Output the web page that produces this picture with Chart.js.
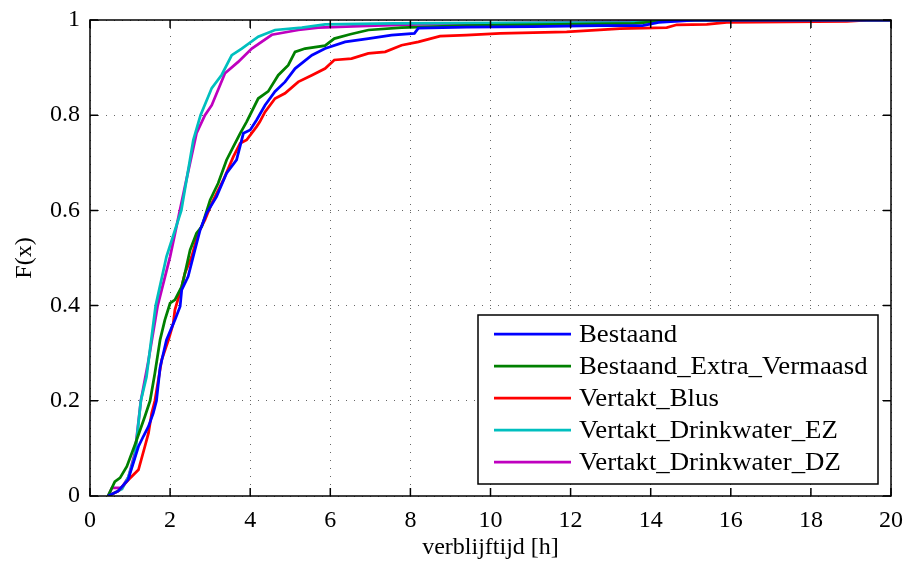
<!DOCTYPE html>
<html><head><meta charset="utf-8">
<script src="https://cdn.jsdelivr.net/npm/chart.js@4/dist/chart.umd.min.js"></script>
<style>html,body{margin:0;padding:0;background:#fff}</style>
</head><body>
<canvas id="c" width="907" height="562"></canvas>
<script>
// ---- data ----
const seriesNames = ['Bestaand','Bestaand_Extra_Vermaasd','Vertakt_Blus','Vertakt_Drinkwater_EZ','Vertakt_Drinkwater_DZ'];
const seriesColors = ['#0000FF','#008000','#FF0000','#00BFBF','#BF00BF'];
const xTicks = [0,2,4,6,8,10,12,14,16,18,20];
const yTicks = [0,0.2,0.4,0.6,0.8,1];

const bestaandX = [0.45,0.7,0.95,1.21,1.33,1.46,1.58,1.66,1.75,1.91,2.12,2.25,2.29,2.45,2.62,2.75,2.91,3.16,3.41,3.66,3.83,4.0,4.16,4.37,4.62,4.87,5.12,5.54,5.87,6.37,6.95,7.53,8.1,8.2,9.4,11.07,12.7,13.8,14.2,15.2,20];
const bestaandY = [0,0.01,0.034,0.104,0.125,0.146,0.174,0.2,0.27,0.328,0.37,0.398,0.433,0.461,0.517,0.559,0.594,0.629,0.678,0.706,0.762,0.769,0.79,0.821,0.85,0.87,0.898,0.926,0.94,0.954,0.961,0.968,0.972,0.983,0.985,0.986,0.988,0.988,0.995,1,1];

const extraX = [0.45,0.62,0.75,0.92,1.12,1.37,1.5,1.62,1.75,1.87,2.0,2.12,2.29,2.37,2.5,2.66,2.79,3.0,3.2,3.41,3.58,3.75,3.91,4.2,4.45,4.7,4.95,5.12,5.37,5.87,6.1,6.5,6.95,7.78,9.4,13.6,14.6,20];
const extraY = [0,0.03,0.038,0.062,0.107,0.167,0.2,0.258,0.328,0.37,0.405,0.412,0.44,0.468,0.517,0.552,0.566,0.622,0.657,0.706,0.734,0.762,0.786,0.835,0.85,0.884,0.905,0.933,0.94,0.946,0.961,0.97,0.979,0.984,0.988,0.993,1,1];

const blusX = [0.45,0.7,0.96,1.21,1.37,1.46,1.54,1.62,1.79,1.96,2.08,2.12,2.29,2.37,2.54,2.7,2.87,3.04,3.33,3.58,3.75,3.91,4.16,4.24,4.37,4.62,4.87,5.2,5.54,5.87,6.1,6.53,6.95,7.37,7.78,8.2,8.74,9.4,10.24,11.9,12.73,13.23,14.4,14.65,15.4,15.9,18.9,19.5,20];
const blusY = [0,0.01,0.034,0.055,0.104,0.132,0.174,0.2,0.286,0.328,0.363,0.391,0.44,0.468,0.503,0.552,0.58,0.615,0.664,0.713,0.741,0.748,0.776,0.786,0.807,0.835,0.846,0.87,0.884,0.898,0.916,0.919,0.93,0.933,0.947,0.954,0.966,0.968,0.972,0.975,0.979,0.982,0.984,0.99,0.991,0.995,0.997,1,1];

const ezX = [0.45,0.8,0.96,1.12,1.27,1.41,1.64,1.91,2.28,2.58,2.76,3.04,3.29,3.54,3.79,4.2,4.62,5.29,5.87,7.6,13.5,14.9,20];
const ezY = [0,0.015,0.04,0.083,0.2,0.25,0.4,0.503,0.6,0.748,0.8,0.857,0.885,0.926,0.94,0.965,0.979,0.984,0.991,0.993,0.995,1,1];

const dzX = [0.45,0.55,0.79,0.96,1.12,1.27,1.45,1.69,2.0,2.37,2.66,2.87,3.04,3.37,3.7,4.04,4.54,5.2,5.7,7.1,8.2,12,16.2,20];
const dzY = [0,0.017,0.017,0.04,0.09,0.2,0.28,0.4,0.503,0.65,0.762,0.8,0.821,0.888,0.912,0.94,0.969,0.979,0.984,0.988,0.991,0.995,1,1];

const seriesX = [bestaandX, extraX, blusX, ezX, dzX];
const seriesY = [bestaandY, extraY, blusY, ezY, dzY];

// ---- chart ----
const FONT = "'Liberation Serif','Times New Roman',serif";

const framePlugin = {
  id: 'frame',
  afterDraw(chart) {
    const {ctx, chartArea: a, scales} = chart;
    ctx.save();
    ctx.strokeStyle = '#000';
    ctx.lineWidth = 1.5;
    ctx.strokeRect(a.left, a.top, a.right - a.left, a.bottom - a.top);
    const L = 8;
    ctx.beginPath();
    xTicks.forEach(v => {
      const px = scales.x.getPixelForValue(v);
      ctx.moveTo(px, a.bottom); ctx.lineTo(px, a.bottom - L);
      ctx.moveTo(px, a.top); ctx.lineTo(px, a.top + L);
    });
    yTicks.forEach(v => {
      const py = scales.y.getPixelForValue(v);
      ctx.moveTo(a.left, py); ctx.lineTo(a.left + L, py);
      ctx.moveTo(a.right, py); ctx.lineTo(a.right - L, py);
    });
    ctx.stroke();
    ctx.restore();
  }
};

const legendPlugin = {
  id: 'boxLegend',
  afterDraw(chart) {
    const {ctx, chartArea: a} = chart;
    const x0 = a.right - 413, x1 = a.right - 13;
    const y0 = a.bottom - 181, y1 = a.bottom - 12;
    ctx.save();
    ctx.fillStyle = '#fff';
    ctx.fillRect(x0, y0, x1 - x0, y1 - y0);
    ctx.strokeStyle = '#000';
    ctx.lineWidth = 1.5;
    ctx.strokeRect(x0, y0, x1 - x0, y1 - y0);
    ctx.font = '26px ' + FONT;
    ctx.textBaseline = 'middle';
    ctx.textAlign = 'left';
    chart.data.datasets.forEach((ds, i) => {
      const y = y0 + 19 + i * 32;
      ctx.strokeStyle = ds.borderColor;
      ctx.lineWidth = 2.75;
      ctx.beginPath(); ctx.moveTo(x0 + 16, y); ctx.lineTo(x0 + 93, y); ctx.stroke();
      ctx.fillStyle = '#000';
      ctx.save();
      ctx.translate(x0 + 101, y + 1);
      ctx.scale(1.03, 1);
      ctx.fillText(ds.label, 0, 0);
      ctx.restore();
    });
    ctx.restore();
  }
};

new Chart(document.getElementById('c').getContext('2d'), {
  type: 'line',
  data: {
    datasets: seriesNames.map((name, i) => ({
      label: name,
      data: seriesX[i].map((x, j) => ({x: x, y: seriesY[i][j]})),
      borderColor: seriesColors[i],
      backgroundColor: seriesColors[i],
      borderWidth: 2.75,
      pointRadius: 0,
      fill: false,
      tension: 0
    }))
  },
  options: {
    responsive: false,
    animation: false,
    devicePixelRatio: 1,
    layout: {padding: {top: 20, right: 16, left: 0, bottom: 0}},
    plugins: {legend: {display: false}, tooltip: {enabled: false}},
    scales: {
      x: {
        type: 'linear', min: 0, max: 20,
        afterBuildTicks: s => { s.ticks = xTicks.map(v => ({value: v})); },
        ticks: {font: {family: FONT, size: 24}, color: '#000', padding: 10, maxRotation: 0, callback: v => String(v)},
        grid: {color: 'rgba(0,0,0,0.6)', lineWidth: 1, drawTicks: false},
        border: {display: false, dash: [1, 7]},
        title: {display: true, text: 'verblijftijd [h]', font: {family: FONT, size: 24}, color: '#000', padding: {top: 0, bottom: 0}},
        afterFit: s => { s.height = 66; s.paddingLeft = 0; s.paddingRight = 0; }
      },
      y: {
        type: 'linear', min: 0, max: 1,
        afterBuildTicks: s => { s.ticks = yTicks.map(v => ({value: v})); },
        ticks: {font: {family: FONT, size: 24}, color: '#000', padding: 10, callback: v => String(Math.round(v * 10) / 10)},
        grid: {color: 'rgba(0,0,0,0.6)', lineWidth: 1, drawTicks: false},
        border: {display: false, dash: [1, 7]},
        title: {display: true, text: 'F(x)', font: {family: FONT, size: 24}, color: '#000', padding: {top: 10, bottom: 0}},
        afterFit: s => { s.width = 90; s.paddingTop = 0; s.paddingBottom = 0; }
      }
    }
  },
  plugins: [framePlugin, legendPlugin]
});
</script>
</body></html>
